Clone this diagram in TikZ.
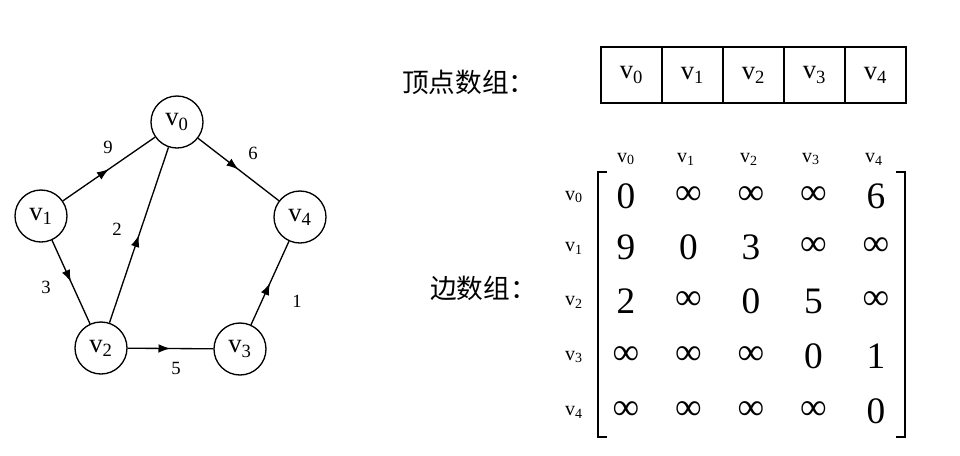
\documentclass[tikz,border=0pt]{standalone}
\usepackage{fontspec}
\setmainfont{Liberation Serif}
\newfontfamily\cjk{Noto Sans CJK SC}
\usetikzlibrary{arrows.meta,decorations.markings}
\begin{document}
\begin{tikzpicture}[x=0.75pt,y=-0.75pt,
  vert/.style={draw,circle,line width=1pt,minimum size=39pt,inner sep=0pt,font=\fontsize{20}{20}\selectfont},
  edge/.style={line width=1pt,postaction={decorate},
    decoration={markings,mark=at position 0.5 with {\arrow{Latex[length=9pt,width=6.5pt]}}}},
  wt/.style={inner sep=0pt,font=\fontsize{14}{14}\selectfont},
  cellbox/.style={draw,line width=1pt,minimum width=45.75pt,minimum height=42pt,inner sep=0pt,outer sep=0pt,font=\fontsize{20}{20}\selectfont},
  bigentry/.style={inner sep=0pt,font=\fontsize{28}{28}\selectfont},
  smalllab/.style={inner sep=0pt,font=\fontsize{15}{15}\selectfont},
  cnlab/.style={inner sep=0pt,anchor=west,font=\cjk\fontsize{20}{20}\selectfont},
  brk/.style={line width=1.2pt}]
\path[use as bounding box] (0,0) rectangle (960,455);

% graph
\node[vert] (v0) at (177,122) {v\textsubscript{0}};
\node[vert] (v1) at (41,216) {v\textsubscript{1}};
\node[vert] (v4) at (300,217) {v\textsubscript{4}};
\node[vert] (v2) at (101,348) {v\textsubscript{2}};
\node[vert] (v3) at (240,349) {v\textsubscript{3}};

\draw[edge] (v1) -- (v0);
\draw[edge] (v0) -- (v4);
\draw[edge] (v2) -- (v0);
\draw[edge] (v1) -- (v2);
\draw[edge] (v2) -- (v3);
\draw[edge] (v3) -- (v4);

\node[wt] (w9) at (108,147) {9};
\node[wt] (w6) at (253,153) {6};
\node[wt] (w2) at (117,229) {2};
\node[wt] (w3) at (46,287) {3};
\node[wt] (w5) at (176,368) {5};
\node[wt] (w1) at (297,301) {1};

% vertex array
\node[cnlab] (lab1) at (402,82) {顶点数组：};
\foreach \i/\x in {0/631.5,1/692.5,2/753.5,3/814.5,4/875.5}
  \node[cellbox] (c\i) at (\x,75) {v\textsubscript{\i}};

% edge array
\node[cnlab] (lab2) at (430,288) {边数组：};
\foreach \i/\x in {0/626,1/686,2/749,3/811,4/874}
  \node[smalllab] (h\i) at (\x,159) {v\textsubscript{\i}};
\foreach \i/\y in {0/196,1/247,2/301,3/356,4/411}
  \node[smalllab] (r\i) at (574,\y+1) {v\textsubscript{\i}};

\draw[brk] (607,172) -- (598,172) -- (598,437) -- (607,437);
\draw[brk] (896,172) -- (905,172) -- (905,437) -- (896,437);

\foreach \r/\y/\row in {0/196/{0,∞,∞,∞,6},1/247/{9,0,3,∞,∞},2/301/{2,∞,0,5,∞},3/356/{∞,∞,∞,0,1},4/411/{∞,∞,∞,∞,0}}{
  \foreach \v [count=\c from 0] in \row {
    \pgfmathsetmacro{\xx}{626+\c*62.5}
    \node[bigentry] (m\r\c) at (\xx,\y) {\v};
  }
}
\end{tikzpicture}
\end{document}
